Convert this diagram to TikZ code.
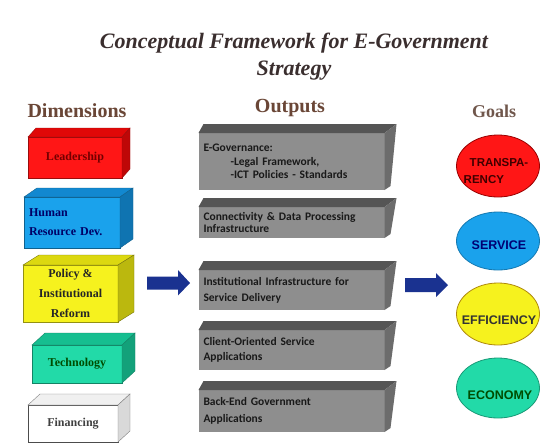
\documentclass[tikz,border=0pt]{standalone}
\usepackage{fontspec}
\setmainfont{Liberation Serif}
\newfontfamily\carl{Carlito}
\newfontfamily\arialf{Liberation Sans}
\usetikzlibrary{shapes.geometric,calc}
\definecolor{titlec}{HTML}{3A2E2E}
\definecolor{headc}{HTML}{6A4636}
\definecolor{cred}{HTML}{FF1616}
\definecolor{credtop}{HTML}{E00808}
\definecolor{cblue}{HTML}{1AA2EC}
\definecolor{cbluetop}{HTML}{1288D0}
\definecolor{cyel}{HTML}{F6F21E}
\definecolor{cyeltop}{HTML}{DCD810}
\definecolor{cteal}{HTML}{22DAA8}
\definecolor{ctealtop}{HTML}{16BE90}
\definecolor{ogray}{HTML}{8E8E8E}
\definecolor{ogtop}{HTML}{555555}
\definecolor{ogside}{HTML}{6C6C6C}
\definecolor{navy}{HTML}{1A3290}
\newcommand\cubefaces[4]{%
  \path[#3] (#1.north west) -- ++(#2) -- ($(#1.north east)+(#2)$) -- (#1.north east) -- cycle;
  \path[#4] (#1.north east) -- ($(#1.north east)+(#2)$) -- ($(#1.south east)+(#2)$) -- (#1.south east) -- cycle;
}
\newcommand\outfaces[1]{%
  \path[fill=ogtop] (#1.north west) -- ++(5,-9) -- ($(#1.north east)+(12,-9)$) -- (#1.north east) -- cycle;
  \path[fill=ogside] (#1.north east) -- ($(#1.north east)+(12,-9)$) -- ($(#1.south east)+(6,-4)$) -- (#1.south east) -- cycle;
}
\begin{document}
\begin{tikzpicture}[x=1pt,y=-1pt,
  heading/.style={font=\fontsize{20}{24}\selectfont\bfseries, text=headc, anchor=base, inner sep=0},
  dimbox/.style={draw=#1!60!black, line width=0.4pt, outer sep=0, inner sep=4pt,
    font=\fontsize{12}{19}\selectfont\bfseries},
  outbox/.style={fill=ogray, outer sep=0, inner xsep=5pt, text width=176pt, align=left,
    minimum width=183, text=black!90},
  outfont/.style={font=\carl\fontsize{11.5}{#1}\selectfont\bfseries},
  goal/.style={ellipse, inner sep=0, line width=0.8pt, minimum width=83, minimum height=60},
  goaltext/.style={font=\arialf\fontsize{12.5}{16}\selectfont\bfseries, inner sep=0},
  bigarrow/.style={fill=navy}
]
\useasboundingbox (0,0) rectangle (541,445);
\fill[white] (0,0) rectangle (541,445);

% title
\node[font=\fontsize{22}{27}\selectfont\bfseries\itshape, text=titlec, anchor=base] (title1) at (294,48) {Conceptual Framework for E-Government};
\node[font=\fontsize{22}{27}\selectfont\bfseries\itshape, text=titlec, anchor=base] (title2) at (294,75) {Strategy};

% headings
\node[heading] (hdim) at (77,117) {Dimensions};
\node[heading] (hout) at (290,112) {Outputs};
\node[heading, font=\fontsize{18}{22}\selectfont\bfseries, text=headc!70!gray] (hgoal) at (494,117) {Goals};

% dimensions
\node[dimbox=cred, fill=cred, minimum width=94, minimum height=41, text=red!45!black] (lead) at (75,157.5) {Leadership};
\cubefaces{lead}{8,-9}{fill=credtop, draw=cred!60!black}{fill=credtop!85!black, draw=cred!60!black}

\node[dimbox=cblue, fill=cblue, minimum width=96, minimum height=51, text width=86, align=left, text=blue!40!black] (hr) at (72,222.5) {Human\\Resource Dev.};
\cubefaces{hr}{13,-9}{fill=cbluetop, draw=cblue!60!black}{fill=cbluetop!85!black, draw=cblue!60!black}

\node[dimbox=cyel, fill=cyel, minimum width=95, minimum height=57, align=center, text=black!85, font=\fontsize{12}{20}\selectfont\bfseries] (pol) at (70.5,293.5) {Policy \&\\Institutional\\Reform};
\cubefaces{pol}{16,-10}{fill=cyeltop, draw=cyel!50!black}{fill=cyeltop!85!black, draw=cyel!50!black}

\node[dimbox=cteal, fill=cteal, minimum width=90, minimum height=38, text=green!30!black] (tech) at (77,364) {Technology};
\cubefaces{tech}{13,-12}{fill=ctealtop, draw=cteal!60!black}{fill=ctealtop!85!black, draw=cteal!60!black}

\node[dimbox=gray, fill=white, minimum width=90, minimum height=37, text=black!75] (fin) at (73,423.5) {Financing};
\cubefaces{fin}{12,-11}{fill=gray!12, draw=gray}{fill=gray!30, draw=gray}

% outputs
\node[outbox, outfont=13.5, minimum height=57] (o1) at (291.5,161.5) {E-Governance:\\\hspace*{27pt}-Legal Framework,\\\hspace*{27pt}-ICT Policies - Standards};
\outfaces{o1}
\node[outbox, outfont=12, minimum height=31] (o2) at (291.5,222.5) {Connectivity \& Data Processing\\Infrastructure};
\outfaces{o2}
\node[outbox, outfont=16, minimum height=40] (o3) at (291.5,290) {Institutional Infrastructure for\\Service Delivery};
\outfaces{o3}
\node[outbox, outfont=15, minimum height=40] (o4) at (291.5,350) {Client-Oriented Service\\Applications};
\outfaces{o4}
\node[outbox, outfont=17, minimum height=42] (o5) at (291.5,411) {Back-End Government\\Applications};
\outfaces{o5}

% goals
\node[goal, fill=cred, draw=red!60!black, minimum height=62] (g1) at (498,166) {};
\node[goaltext, align=left, text=red!25!black, font=\arialf\fontsize{11.5}{17}\selectfont\bfseries] (g1t) at (496,171) {\hspace*{6pt}TRANSPA-\\RENCY};
\node[goal, fill=cblue, draw=cblue!75!black, minimum height=58] (g2) at (498,241) {};
\node[goaltext, text=blue!45!black] (g2t) at (499,245) {SERVICE};
\node[goal, fill=cyel, draw=cyel!60!orange!70!black, minimum height=62] (g3) at (498,314) {};
\node[goaltext, text=black!80] (g3t) at (499,320) {EFFICIENCY};
\node[goal, fill=cteal, draw=cteal!70!black, minimum height=60] (g4) at (498,388) {};
\node[goaltext, text=green!30!black] (g4t) at (500,395) {ECONOMY};

% arrows
\coordinate (a1) at (147,283);
\coordinate (a2) at (405,285);
\fill[bigarrow] (a1) ++(0,-6.5) -- ++(31,0) -- ++(0,-6.5) -- ++(12,13) -- ++(-12,12.5) -- ++(0,-6) -- ++(-31,0) -- cycle;
\fill[bigarrow] (a2) ++(0,-7) -- ++(31,0) -- ++(0,-5) -- ++(12,12) -- ++(-12,12) -- ++(0,-5) -- ++(-31,0) -- cycle;
\end{tikzpicture}
\end{document}
